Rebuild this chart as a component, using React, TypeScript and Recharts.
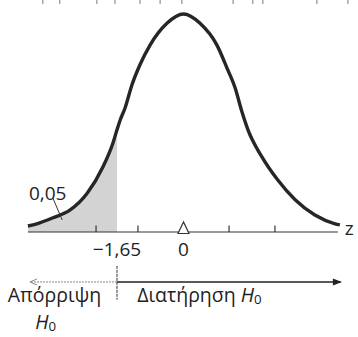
import React from "react";
import {
  ComposedChart,
  Area,
  Line,
  XAxis,
  YAxis,
  ReferenceLine,
  ReferenceDot,
} from "recharts";

// curve: z position and height of the density
const Z = [
  -3.86, -3.64, -3.24, -2.82, -2.39, -2.0, -1.75, -1.65, -1.57, -1.45, -1.28, -1.08, -0.83, -0.41, 0,
  0.41, 0.83, 1.08, 1.28, 1.45, 1.6, 1.95, 2.34, 2.77, 3.26, 3.76, 3.88,
];
const DENSITY = [
  0.011, 0.015, 0.026, 0.04, 0.071, 0.119, 0.163, 0.187, 0.205, 0.227, 0.269, 0.306, 0.342, 0.382, 0.399,
  0.382, 0.342, 0.3, 0.264, 0.22, 0.187, 0.137, 0.095, 0.059, 0.031, 0.015, 0.013,
];
const CRITICAL = -1.65;
const ALPHA = "0,05";
const AXIS_TICKS = [-2.17, -1.13, 1.13, 2.27];
const TICK_LABELS = [CRITICAL, 0];
// little scan marks along the top edge
const TOP_MARKS = [-3.49, -3.07, -2.15, -1.7, -1.08, -0.58, -0.04, 1.23, 1.72, 1.97, 3.31, 4.08];

const FONT = "'Open Sans', 'Noto Sans', sans-serif";
const INK = "#222";

const table = Z.map((z, i) => ({
  z,
  density: DENSITY[i],
  tail: z <= CRITICAL + 1e-9 ? DENSITY[i] : null,
}));

const fmt = (v: number) => (v === 0 ? "0" : String(v).replace("-", "\u2212").replace(".", ","));

type Part = { t: string; italic?: boolean; sub?: boolean };

const note = (parts: Part[], anchor: "start" | "middle" = "middle", size = 19) => (props: any) => {
  const { x, y } = props.viewBox;
  return (
    <text x={x} y={y} textAnchor={anchor} dominantBaseline="central" fontFamily={FONT} fontSize={size} fill={INK}>
      {parts.map((p, i) => (
        <tspan
          key={i}
          fontStyle={p.italic ? "italic" : "normal"}
          fontSize={p.sub ? size * 0.68 : size}
          dy={p.sub ? 5 : i > 0 && parts[i - 1].sub ? -5 : 0}
        >
          {p.t}
        </tspan>
      ))}
    </text>
  );
};

const Triangle = (props: any) => {
  const { cx, cy } = props;
  return (
    <polygon
      points={`${cx},${cy - 10} ${cx - 5.5},${cy + 1.5} ${cx + 5.5},${cy + 1.5}`}
      fill="#fff"
      stroke="#333"
      strokeWidth={1.2}
    />
  );
};

const HeadRight = (props: any) => {
  const { cx, cy } = props;
  return <polygon points={`${cx},${cy} ${cx - 9},${cy - 3.5} ${cx - 9},${cy + 3.5}`} fill={INK} />;
};

const HeadLeft = (props: any) => {
  const { cx, cy } = props;
  return (
    <polyline points={`${cx + 7},${cy - 3} ${cx},${cy} ${cx + 7},${cy + 3}`} fill="none" stroke="#888" strokeWidth={1} />
  );
};

export default function App() {
  const arrowY = -0.0915;
  return (
    <div style={{ position: "absolute", left: 0, top: 0, width: 358, height: 337, background: "#fff" }}>
      <ComposedChart width={358} height={337} data={table} margin={{ top: 0, right: 0, bottom: 0, left: 0 }}>
        <XAxis dataKey="z" type="number" domain={[-4.553, 4.33]} hide allowDataOverflow />
        <YAxis type="number" domain={[-0.1922, 0.4246]} hide allowDataOverflow />

        <Area
          dataKey="tail"
          type="monotone"
          baseValue={0}
          fill="#d3d3d3"
          fillOpacity={1}
          stroke="none"
          dot={false}
          activeDot={false}
          isAnimationActive={false}
        />

        <ReferenceLine segment={[{ x: -3.86, y: 0 }, { x: 3.83, y: 0 }]} stroke="#333" strokeWidth={1.2} />
        {AXIS_TICKS.map((t) => (
          <ReferenceLine key={t} segment={[{ x: t, y: 0 }, { x: t, y: 0.012 }]} stroke="#333" strokeWidth={1.2} />
        ))}
        {TOP_MARKS.map((t) => (
          <ReferenceLine key={"m" + t} segment={[{ x: t, y: 0.4246 }, { x: t, y: 0.4175 }]} stroke="#777" strokeWidth={1} />
        ))}

        <Line
          dataKey="density"
          type="monotone"
          stroke="#262626"
          strokeWidth={3.4}
          dot={false}
          activeDot={false}
          isAnimationActive={false}
        />

        <ReferenceDot x={0} y={0} r={6} shape={Triangle} />

        {TICK_LABELS.map((t) => (
          <ReferenceDot key={"l" + t} x={t} y={-0.031} r={0} fill="none" stroke="none" label={{ content: note([{ t: fmt(t) }]) }} />
        ))}

        <ReferenceLine segment={[{ x: -3.24, y: 0.062 }, { x: -3.01, y: 0.022 }]} stroke="#333" strokeWidth={1} />
        <ReferenceDot x={-3.37} y={0.072} r={0} fill="none" stroke="none" label={{ content: note([{ t: ALPHA }]) }} />
        <ReferenceDot x={4.11} y={0.008} r={0} fill="none" stroke="none" label={{ content: note([{ t: "z" }]) }} />

        {/* decision line underneath */}
        <ReferenceLine
          segment={[{ x: CRITICAL, y: arrowY }, { x: -3.81, y: arrowY }]}
          stroke="#888"
          strokeWidth={1}
          strokeDasharray="2 1"
        />
        <ReferenceLine segment={[{ x: CRITICAL, y: arrowY }, { x: 3.9, y: arrowY }]} stroke={INK} strokeWidth={1.3} />
        <ReferenceLine
          segment={[{ x: CRITICAL, y: -0.062 }, { x: CRITICAL, y: -0.124 }]}
          stroke="#333"
          strokeWidth={1}
          strokeDasharray="3 1"
        />
        <ReferenceDot x={3.93} y={arrowY} r={4} shape={HeadRight} />
        <ReferenceDot x={-3.81} y={arrowY} r={4} shape={HeadLeft} />

        <ReferenceDot x={-3.2} y={-0.113} r={0} fill="none" stroke="none" label={{ content: note([{ t: "Απόρριψη" }], "middle", 19.5) }} />
        <ReferenceDot
          x={-3.42}
          y={-0.163}
          r={0}
          fill="none"
          stroke="none"
          label={{ content: note([{ t: "H", italic: true }, { t: "0", sub: true }], "middle", 19.5) }}
        />
        <ReferenceDot
          x={-1.15}
          y={-0.113}
          r={0}
          fill="none"
          stroke="none"
          label={{
            content: note([{ t: "Διατήρηση " }, { t: "H", italic: true }, { t: "0", sub: true }], "start", 19.5),
          }}
        />
      </ComposedChart>
    </div>
  );
}
